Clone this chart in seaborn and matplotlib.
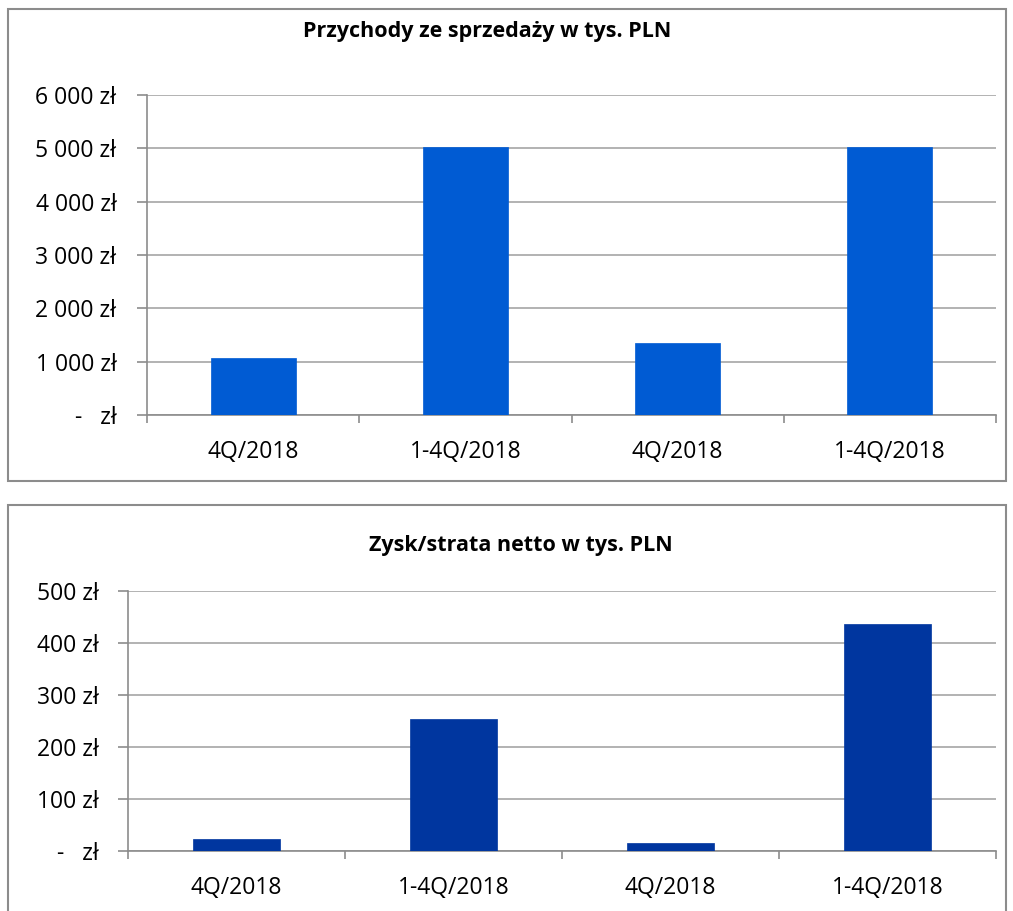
import matplotlib
matplotlib.use("Agg")
import matplotlib.pyplot as plt
import seaborn as sns
import pandas as pd
from matplotlib.ticker import FuncFormatter, FixedLocator
from matplotlib.patches import Rectangle

categories = ["4Q/2018", "1-4Q/2018", "4Q/2018 ", "1-4Q/2018 "]
tick_labels = ["4Q/2018", "1-4Q/2018", "4Q/2018", "1-4Q/2018"]
revenue = [1065, 5020, 1345, 5025]
net_profit = [23, 253, 16, 436]
title_top = "Przychody ze sprzedaży w tys. PLN"
title_bottom = "Zysk/strata netto w tys. PLN"

sns.set_theme(style="white")
plt.rcParams["font.family"] = ["Open Sans", "DejaVu Sans"]

W, H = 1013, 911
fig = plt.figure(figsize=(W / 100, H / 100), dpi=100)

def fmt(v, pos):
    if abs(v) < 1e-9:
        return "-   zł"
    s = f"{int(round(v)):,}".replace(",", " ")
    return s + " zł"

def panel(rect_px, ax_px, values, color, title, ymax, step, title_xy, fs_tick, fs_title, ypad, xpad):
    x0, y0, x1, y1 = rect_px
    fig.patches.append(Rectangle((x0 / W, 1 - y1 / H), (x1 - x0) / W, (y1 - y0) / H,
                                 transform=fig.transFigure, fill=False,
                                 edgecolor="#8c8c8c", linewidth=1.5))
    l, t, r, b = ax_px
    ax = fig.add_axes([l / W, 1 - b / H, (r - l) / W, (b - t) / H])
    df = pd.DataFrame({"cat": categories, "val": values})
    sns.barplot(data=df, x="cat", y="val", color=color, width=0.4, ax=ax,
                saturation=1, edgecolor=color, linewidth=0.5, zorder=3)
    ax.set_xlim(-0.5, 3.5)
    ax.set_ylim(0, ymax)
    ax.set_yticks(list(range(0, ymax + 1, step)))
    ax.yaxis.set_major_formatter(FuncFormatter(fmt))
    ax.yaxis.grid(True, color="#a6a6a6", linewidth=1.2, zorder=0)
    ax.set_axisbelow(True)
    ax.set_xlabel("")
    ax.set_ylabel("")
    ax.set_xticks([0, 1, 2, 3])
    ax.set_xticklabels(tick_labels)
    ax.xaxis.set_minor_locator(FixedLocator([-0.5, 0.5, 1.5, 2.5, 3.5]))
    ax.tick_params(axis="x", which="major", length=0, pad=xpad, labelsize=fs_tick, colors="black")
    ax.tick_params(axis="x", which="minor", length=6, width=1.2, color="#8c8c8c", bottom=True)
    ax.tick_params(axis="y", which="major", length=7, width=1.2, color="#8c8c8c", left=True,
                   labelsize=fs_tick, pad=ypad, labelcolor="black")
    for s in ["top", "right"]:
        ax.spines[s].set_visible(False)
    for s in ["left", "bottom"]:
        ax.spines[s].set_visible(True)
        ax.spines[s].set_color("#8c8c8c")
        ax.spines[s].set_linewidth(1.2)
    fig.text(title_xy[0] / W, 1 - title_xy[1] / H, title, ha="center", va="center",
             fontsize=fs_title, fontweight="bold", color="black")
    return ax

panel((8, 9, 1006, 481), (147, 95, 996, 415), revenue, "#005BD3", title_top,
      6000, 1000, (487, 31), 16.5, 15.5, 15, 18)
panel((8, 505, 1006, 930), (128, 591, 996, 851), net_profit, "#00369F", title_bottom,
      500, 100, (521, 546), 16.5, 15.5, 14, 18)

fig.savefig("out.png", dpi=100)
